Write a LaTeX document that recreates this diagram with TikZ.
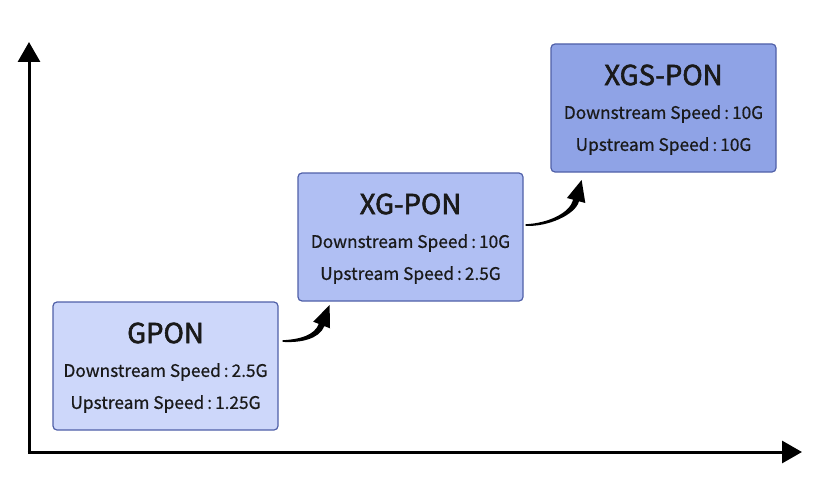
\documentclass[tikz,border=0pt]{standalone}
\usepackage{fontspec}
\setmainfont{Noto Sans CJK SC}
\newfontfamily\ttlfont[FakeBold=2.2]{Noto Sans CJK SC}
\newfontfamily\subfont[FakeBold=0.6]{Noto Sans CJK SC}
\usetikzlibrary{arrows.meta}
\definecolor{bordc}{HTML}{5060A8}
\definecolor{fa}{HTML}{CDD7FA}
\definecolor{fb}{HTML}{B0BFF3}
\definecolor{fc}{HTML}{8FA3E6}
\definecolor{txt}{HTML}{1A1A1A}
\newcommand{\cln}{\hspace{3pt}:\hspace{3pt}}
\tikzset{
  pbox/.style={draw=bordc, line width=1.2pt, rounded corners=4pt, minimum width=225pt, minimum height=128pt, inner sep=0pt},
  ttl/.style={text=txt, font=\ttlfont\fontsize{27.5}{30}\selectfont, inner sep=0pt},
  sub/.style={text=txt, font=\subfont\fontsize{17.3}{20}\selectfont, inner sep=0pt},
  axis/.style={line width=3pt, -{Triangle[length=20pt,width=22pt]}},
  curv/.style={fill=black, draw=none},
}
\begin{document}
\begin{tikzpicture}[x=1pt,y=-1pt]
\useasboundingbox (0,0) rectangle (832,492);
\coordinate (o) at (29,452);
\coordinate (ytip) at (29,42);
\coordinate (xtip) at (802,452);
\draw[axis] ([xshift=-1.5pt]o) -- (xtip);
\draw[axis] ([yshift=-1.5pt]o) -- (ytip);

\node[pbox, fill=fa] (g) at (165.5,366) {};
\node[pbox, fill=fb] (xg) at (410.5,237) {};
\node[pbox, fill=fc] (xgs) at (663.5,108) {};

\node[ttl] (gt) at ([yshift=33pt]g.center) {GPON};
\node[sub] (g1) at ([yshift=-6pt]g.center) {Downstream Speed\cln 2.5G};
\node[sub] (g2) at ([yshift=-38pt]g.center) {Upstream Speed\cln 1.25G};

\node[ttl] (xgt) at ([yshift=33pt]xg.center) {XG-PON};
\node[sub] (xg1) at ([yshift=-6pt]xg.center) {Downstream Speed\cln 10G};
\node[sub] (xg2) at ([yshift=-38pt]xg.center) {Upstream Speed\cln 2.5G};

\node[ttl] (xgst) at ([yshift=33pt]xgs.center) {XGS-PON};
\node[sub] (xgs1) at ([yshift=-6pt]xgs.center) {Downstream Speed\cln 10G};
\node[sub] (xgs2) at ([yshift=-38pt]xgs.center) {Upstream Speed\cln 10G};

% tapered curved arrows
\coordinate (a1) at ([xshift=4pt,yshift=25pt]g.east);
\coordinate (a2) at ([xshift=2pt,yshift=12pt]xg.east);
\begin{scope}[shift={(a1)}]
\fill[curv] (0,-0.8) .. controls (18,-1.7) and (31.8,-5.9) .. (36.2,-17.1)
  -- (30.6,-19.3) -- (47,-36) -- (47.4,-12.7) -- (41.8,-14.9)
  .. controls (36.6,-1.9) and (18,2) .. (0,0.9) -- cycle;
\end{scope}
\begin{scope}[shift={(a2)}]
\fill[curv] (0,-0.8) .. controls (22,-1.7) and (44,-11.7) .. (47.6,-25.3)
  -- (41.3,-27) -- (56,-45) -- (59.7,-22) -- (53.4,-23.7)
  .. controls (49.8,-10.1) and (22,2) .. (0,0.9) -- cycle;
\end{scope}
\end{tikzpicture}
\end{document}
